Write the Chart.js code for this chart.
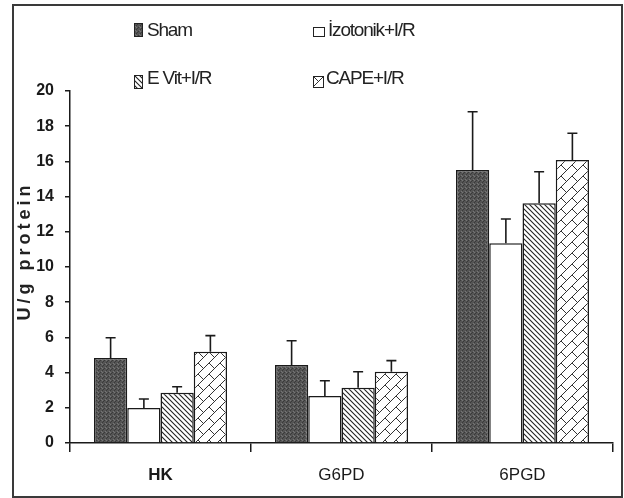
<!DOCTYPE html>
<html>
<head>
<meta charset="utf-8">
<script src="https://cdn.jsdelivr.net/npm/chart.js@4/dist/chart.umd.min.js"></script>
<style>
  html, body { margin: 0; padding: 0; background: #fff; }
  #wrap { position: relative; width: 624px; height: 498px; overflow: hidden; }
  #c { position: absolute; left: 0; top: 0; }
  #frame { position: absolute; left: 12px; top: 4px; width: 607px; height: 490px; border: 2px solid #3a3a3a; pointer-events: none; }
  .lg-text { position: absolute; font-family: "Liberation Sans", Arial, sans-serif; font-size: 19px; letter-spacing: -1.2px; color: #222; white-space: nowrap; line-height: 22px; }
  .lg-sw { position: absolute; }
</style>
</head>
<body>
<div id="wrap">
  <canvas id="c" width="624" height="498"></canvas>
  <div id="frame"></div>
  <div id="legend"></div>
</div>
<script>
// ---- data ----
const categories = ['HK', 'G6PD', '6PGD'];
const seriesNames = ['Sham', 'İzotonik+I/R', 'E Vit+I/R', 'CAPE+I/R'];
const shamValues = [4.83, 4.43, 15.51];
const shamErrors = [1.15, 1.38, 3.31];
const izotonikValues = [1.99, 2.67, 11.35];
const izotonikErrors = [0.51, 0.87, 1.38];
const eVitValues = [2.86, 3.14, 13.62];
const eVitErrors = [0.34, 0.91, 1.79];
const capeValues = [5.19, 4.05, 16.08];
const capeErrors = [0.91, 0.63, 1.52];
const yMin = 0, yMax = 20, yStep = 2;
const yTitle = 'U/g protein';

// ---- patterns ----
function makeTile(w, h, draw) {
  const cv = document.createElement('canvas');
  cv.width = w; cv.height = h;
  const g = cv.getContext('2d');
  draw(g, w, h);
  return cv;
}
const shamTile = makeTile(4, 4, (g) => {
  g.fillStyle = '#555555'; g.fillRect(0, 0, 4, 4);
  g.fillStyle = '#3a3a3a'; g.fillRect(0, 0, 1, 1); g.fillRect(2, 2, 1, 1); g.fillRect(3, 1, 1, 1);
  g.fillStyle = '#767676'; g.fillRect(1, 3, 1, 1); g.fillRect(2, 0, 1, 1);
});
const hatchTile = makeTile(5, 5, (g) => {
  g.fillStyle = '#fff'; g.fillRect(0, 0, 5, 5);
  g.strokeStyle = '#222'; g.lineWidth = 1.1;
  g.beginPath();
  g.moveTo(-1, -1); g.lineTo(6, 6);
  g.moveTo(-1, 4); g.lineTo(1, 6);
  g.moveTo(4, -1); g.lineTo(6, 1);
  g.stroke();
});
const capeTile = makeTile(11, 11, (g) => {
  g.fillStyle = '#fff'; g.fillRect(0, 0, 11, 11);
  g.strokeStyle = '#333'; g.lineWidth = 1;
  g.beginPath();
  g.moveTo(-1, 12); g.lineTo(12, -1);
  g.moveTo(0, 0); g.lineTo(5.5, 5.5);
  g.stroke();
});
const ctx = document.getElementById('c').getContext('2d');
const shamFill = ctx.createPattern(shamTile, 'repeat');
const hatchFill = ctx.createPattern(hatchTile, 'repeat');
const capeFill = ctx.createPattern(capeTile, 'repeat');
const fills = [shamFill, '#ffffff', hatchFill, capeFill];
const valuesList = [shamValues, izotonikValues, eVitValues, capeValues];
const errorsList = [shamErrors, izotonikErrors, eVitErrors, capeErrors];

// ---- legend (HTML) ----
const legendPos = [
  { sx: 134, sy: 23, sw: 9, sh: 14, tx: 147, ty: 19 },
  { sx: 313, sy: 27, sw: 12, sh: 10, tx: 328, ty: 19 },
  { sx: 134, sy: 75, sw: 9, sh: 14, tx: 147, ty: 67 },
  { sx: 313, sy: 76, sw: 11, sh: 12, tx: 326, ty: 67 }
];
const legendTiles = [shamTile, null, hatchTile, capeTile];
const legendEl = document.getElementById('legend');
seriesNames.forEach((name, i) => {
  const p = legendPos[i];
  const sw = document.createElement('canvas');
  sw.className = 'lg-sw';
  sw.width = p.sw; sw.height = p.sh;
  sw.style.left = p.sx + 'px'; sw.style.top = p.sy + 'px';
  const g = sw.getContext('2d');
  g.fillStyle = '#fff'; g.fillRect(0, 0, p.sw, p.sh);
  if (legendTiles[i]) { g.fillStyle = g.createPattern(legendTiles[i], 'repeat'); g.fillRect(0, 0, p.sw, p.sh); }
  g.strokeStyle = '#222'; g.lineWidth = 1; g.strokeRect(0.5, 0.5, p.sw - 1, p.sh - 1);
  legendEl.appendChild(sw);
  const t = document.createElement('div');
  t.className = 'lg-text';
  t.textContent = name;
  t.style.left = p.tx + 'px'; t.style.top = p.ty + 'px';
  legendEl.appendChild(t);
});

// ---- plugins ----
const errorBars = {
  id: 'errorBars',
  afterDatasetsDraw(chart) {
    const c = chart.ctx;
    const ys = chart.scales.y;
    c.save();
    c.strokeStyle = '#1a1a1a';
    c.lineWidth = 1.6;
    chart.data.datasets.forEach((ds, di) => {
      const meta = chart.getDatasetMeta(di);
      meta.data.forEach((bar, j) => {
        const top = ys.getPixelForValue(ds.data[j] + errorsList[di][j]);
        c.beginPath();
        c.moveTo(bar.x, bar.y);
        c.lineTo(bar.x, top);
        c.moveTo(bar.x - 5, top);
        c.lineTo(bar.x + 5, top);
        c.stroke();
      });
    });
    c.restore();
  }
};
const yTitlePlugin = {
  id: 'yTitlePlugin',
  afterDraw(chart) {
    const c = chart.ctx;
    const area = chart.chartArea;
    c.save();
    c.translate(25.5, (area.top + area.bottom) / 2 - 14);
    c.rotate(-Math.PI / 2);
    c.font = 'bold 18px "Liberation Sans", Arial, sans-serif';
    c.fillStyle = '#222';
    c.textAlign = 'center';
    c.textBaseline = 'middle';
    if ('letterSpacing' in c) c.letterSpacing = '4px';
    c.fillText(yTitle, 2, 0);
    c.restore();
  }
};

new Chart(ctx, {
  type: 'bar',
  data: {
    labels: categories,
    datasets: seriesNames.map((name, i) => ({
      label: name,
      data: valuesList[i],
      backgroundColor: fills[i],
      borderColor: '#1a1a1a',
      borderWidth: 1.5,
      barPercentage: 1,
      categoryPercentage: 0.735
    }))
  },
  options: {
    responsive: false,
    animation: false,
    devicePixelRatio: 1,
    layout: { padding: { top: 91, right: 11, left: 0, bottom: 0 } },
    plugins: { legend: { display: false }, tooltip: { enabled: false } },
    scales: {
      x: {
        afterFit(scale) { scale.height = 55; },
        grid: { offset: true, drawOnChartArea: false, drawTicks: true, tickLength: 9, color: '#1a1a1a', lineWidth: 1.5 },
        border: { display: true, color: '#1a1a1a', width: 1.5 },
        ticks: {
          padding: 13,
          color: '#1a1a1a',
          font: (c) => ({ family: '"Liberation Sans", Arial, sans-serif', size: 17, weight: c.index === 0 ? 'bold' : 'normal' })
        }
      },
      y: {
        min: yMin, max: yMax,
        afterFit(scale) { scale.width = 70; },
        grid: { drawOnChartArea: false, drawTicks: true, tickLength: 5, color: '#1a1a1a', lineWidth: 1.5 },
        border: { display: true, color: '#1a1a1a', width: 1.5 },
        ticks: {
          stepSize: yStep,
          padding: 11,
          color: '#1a1a1a',
          font: { family: '"Liberation Sans", Arial, sans-serif', size: 16, weight: 'bold' }
        }
      }
    }
  },
  plugins: [errorBars, yTitlePlugin]
});
</script>
</body>
</html>
